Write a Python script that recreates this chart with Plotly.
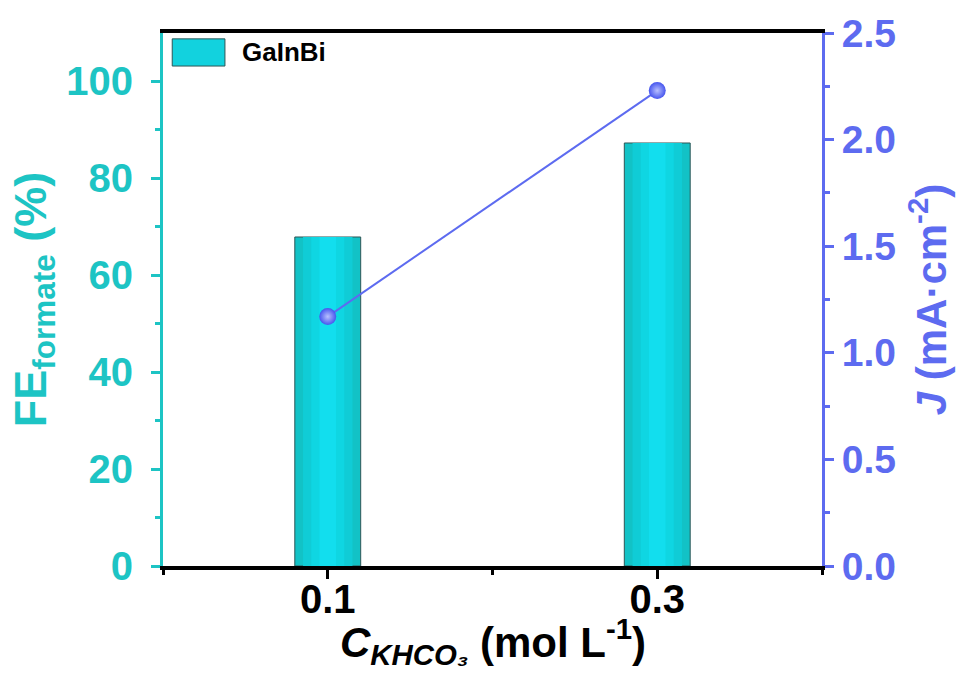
import plotly.graph_objects as go

# KHCO3 concentration (mol/L)
concentration = [0.1, 0.3]
# Faradaic efficiency toward formate (%)
fe_formate = [67.9, 87.3]
# Current density (mA cm^-2)
current_density = [1.17, 2.23]

x_ticks = [0.1, 0.3]
x_tick_labels = ["0.1", "0.3"]

TEAL = "#1DC4C4"
BLUE = "#5D6BF0"
FONT = "Liberation Sans, Arial, sans-serif"

fig = go.Figure()

# Bars with a cylindrical shading: a darker outer bar and lighter narrower bars on top
shades = [("#12C2C6", 0.04), ("#10CCD6", 0.03), ("#0FD6E2", 0.02), ("#12DEEE", 0.01)]
for i, (col, w) in enumerate(shades):
    fig.add_trace(go.Bar(
        x=concentration, y=fe_formate, width=w,
        marker=dict(color=col,
                    line=dict(color="#2E5656" if i == 0 else col, width=1 if i == 0 else 0)),
        showlegend=False, hoverinfo="skip" if i else None,
        name="GaInBi",
    ))

fig.add_trace(go.Scatter(
    x=concentration, y=current_density, yaxis="y2",
    mode="lines+markers",
    line=dict(color=BLUE, width=2),
    marker=dict(size=17, color="#4655EE",
                gradient=dict(type="radial", color="#B8C0FF"),
                line=dict(width=0)),
    showlegend=False, name="J",
))

fig.update_layout(
    width=960, height=674,
    margin=dict(l=163, r=138, t=33, b=108),
    paper_bgcolor="white", plot_bgcolor="white",
    barmode="overlay",
    font=dict(family=FONT, color="black"),
    xaxis=dict(
        range=[0, 0.4],
        tickvals=x_ticks, ticktext=x_tick_labels,
        ticks="outside", ticklen=9, tickwidth=3, tickcolor="black",
        minor=dict(tickvals=[0, 0.2, 0.4], ticks="outside", ticklen=5, tickwidth=3, tickcolor="black"),
        showline=True, linecolor="black", linewidth=4, mirror=True,
        showgrid=False, zeroline=False,
        ticklabelstandoff=-14,
        tickfont=dict(size=40, family=FONT, color="black", weight="bold"),
    ),
    yaxis=dict(
        range=[0, 110],
        tickvals=[0, 20, 40, 60, 80, 100],
        ticks="outside", ticklen=9, tickwidth=3, tickcolor=TEAL,
        minor=dict(tickvals=[10, 30, 50, 70, 90], ticks="outside", ticklen=5, tickwidth=3, tickcolor=TEAL),
        showline=True, linecolor=TEAL, linewidth=3,
        showgrid=False, zeroline=False,
        ticklabelstandoff=10,
        tickfont=dict(size=40, family=FONT, color=TEAL, weight="bold"),
        title=dict(text="FE<sub>formate</sub> (%)",
                   font=dict(size=45, family=FONT, color=TEAL, weight="bold"),
                   standoff=6),
    ),
    yaxis2=dict(
        overlaying="y", side="right",
        range=[0, 2.5],
        tickvals=[0, 0.5, 1.0, 1.5, 2.0, 2.5],
        ticktext=["0.0", "0.5", "1.0", "1.5", "2.0", "2.5"],
        ticks="outside", ticklen=9, tickwidth=3, tickcolor=BLUE,
        minor=dict(tickvals=[0.25, 0.75, 1.25, 1.75, 2.25], ticks="outside", ticklen=5, tickwidth=3, tickcolor=BLUE),
        showline=True, linecolor=BLUE, linewidth=3,
        showgrid=False, zeroline=False,
        tickfont=dict(size=39, family=FONT, color=BLUE, weight="bold"),
        title=dict(text="<i>J</i> (mA·cm<sup>-2</sup>)",
                   font=dict(size=42, family=FONT, color=BLUE, weight="bold"),
                   standoff=22),
    ),
)

# x-axis title
fig.add_annotation(xref="paper", yref="paper", x=0.5, y=-0.082,
                   text="<i>C</i><sub><i>KHCO₃</i></sub> (mol L<sup>-1</sup>)",
                   showarrow=False, xanchor="center", yanchor="top",
                   font=dict(size=42, family=FONT, color="black", weight="bold"))

# Legend entry for the bar series
fig.add_shape(type="rect", xref="paper", yref="paper",
              x0=0.014, x1=0.094, y0=0.938, y1=0.989,
              fillcolor="#12D2DE", line=dict(color="#2E5656", width=1))
fig.add_annotation(xref="paper", yref="paper", x=0.117, y=0.964,
                   text="GaInBi", showarrow=False, xanchor="left", yanchor="middle",
                   font=dict(size=26, family=FONT, color="black", weight="bold"))

fig.write_html("out.html")
